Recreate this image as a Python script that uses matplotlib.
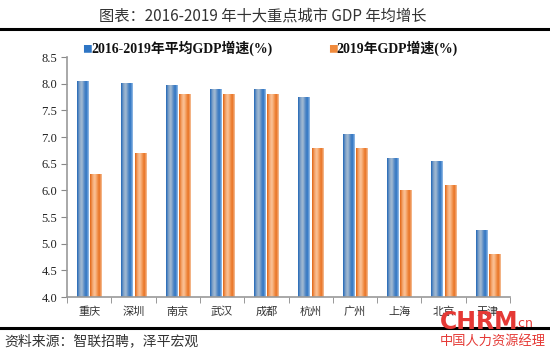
import numpy as np
import matplotlib.pyplot as plt
from matplotlib.colors import LinearSegmentedColormap
from matplotlib.lines import Line2D

#Data
cities = ['重庆', '深圳', '南京', '武汉', '成都', '杭州', '广州', '上海', '北京', '天津']
avg_growth = [8.05, 8.02, 7.97, 7.9, 7.9, 7.75, 7.05, 6.6, 6.55, 5.25]
growth_2019 = [6.3, 6.7, 7.8, 7.8, 7.8, 6.8, 6.8, 6.0, 6.1, 4.8]
series_names = ['2016-2019年平均GDP增速(%)', '2019年GDP增速(%)']
yticks = np.arange(4.0, 8.51, 0.5)

serif = ['Liberation Serif', 'Noto Sans CJK SC']
cjk = ['Noto Sans CJK SC', 'DejaVu Sans']

fig = plt.figure(figsize=(5.5, 3.56), dpi=100)
ax = fig.add_axes([0.1218, 0.1657, 0.8055, 0.674])

x = np.arange(len(cities))
w = 0.25
b1 = ax.bar(x - 0.15, avg_growth, w, bottom=0, color='#2e75c4')
b2 = ax.bar(x + 0.15, growth_2019, w, bottom=0, color='#f08a3c')

#Gradient fill on bars (dark edges, light middle)
blue_cmap = LinearSegmentedColormap.from_list('b', ['#1d63b5', '#7fa2c8', '#a7bdd3', '#5d8ec6', '#2a72c2', '#9fc3ea'])
orange_cmap = LinearSegmentedColormap.from_list('o', ['#e0620f', '#f4a46b', '#fbc59c', '#f39a58', '#e86d1c', '#f7c8a4'])
grad = np.linspace(0, 1, 64).reshape(1, -1)
for bars, cm in ((b1, blue_cmap), (b2, orange_cmap)):
    for p in bars:
        x0, y0 = p.get_x(), 4.0
        im = ax.imshow(grad, cmap=cm, aspect='auto', extent=[x0, x0 + p.get_width(), y0, p.get_height()],
                       zorder=2, interpolation='bicubic')
        im.set_clip_path(p)
        p.set_alpha(0)

ax.set_xlim(-0.5, len(cities) - 0.5)
ax.set_ylim(4.0, 8.5)
ax.set_yticks(yticks)
ax.set_yticklabels(['%.1f' % v for v in yticks], family=serif, fontsize=9, color='#222222')
ax.set_xticks(x)
ax.set_xticklabels(cities, family=cjk, fontsize=8, color='#333333')
ax.set_xticks(np.arange(-0.5, len(cities), 1), minor=True)
ax.tick_params(axis='x', which='major', length=0, pad=7)
ax.tick_params(axis='x', which='minor', length=4, color='#888888', direction='out')
ax.tick_params(axis='y', length=4, color='#888888', direction='out', pad=3)
for s in ['top', 'right']:
    ax.spines[s].set_visible(False)
for s in ['left', 'bottom']:
    ax.spines[s].set_color('#999999')
    ax.spines[s].set_linewidth(1.2)

#Legend
fig.text(0.150, 0.863, '■', color='#2e75c4', fontsize=7, family=cjk, va='center')
fig.text(0.166, 0.863, series_names[0], fontsize=10, fontweight='bold', family=serif, va='center', color='#111111')
fig.text(0.596, 0.863, '■', color='#f08a3c', fontsize=7, family=cjk, va='center')
fig.text(0.612, 0.863, series_names[1], fontsize=10, fontweight='bold', family=serif, va='center', color='#111111')

#Title and rules
fig.text(0.477, 0.955, '图表：2016-2019 年十大重点城市 GDP 年均增长', ha='center', va='center',
         fontsize=11, family=cjk, color='#333333')
fig.add_artist(Line2D([0, 1], [0.918, 0.918], color='black', lw=2.2, transform=fig.transFigure))
fig.add_artist(Line2D([0, 1], [0.078, 0.078], color='black', lw=2.2, transform=fig.transFigure))
fig.text(0.008, 0.042, '资料来源：智联招聘，泽平宏观', fontsize=10, family=cjk, color='#333333',
         va='center', style='italic')

#Watermark
fig.text(0.80, 0.095, 'CHRM', fontsize=17, fontweight='bold', family='DejaVu Sans', color='#e53935', va='center')
fig.text(0.935, 0.09, '.cn', fontsize=9, family='DejaVu Sans', color='#e53935', va='center')
fig.text(0.80, 0.04, '中国人力资源经理', fontsize=9.5, family=cjk, color='#e53935', va='center')

fig.savefig('out.png', dpi=100)
